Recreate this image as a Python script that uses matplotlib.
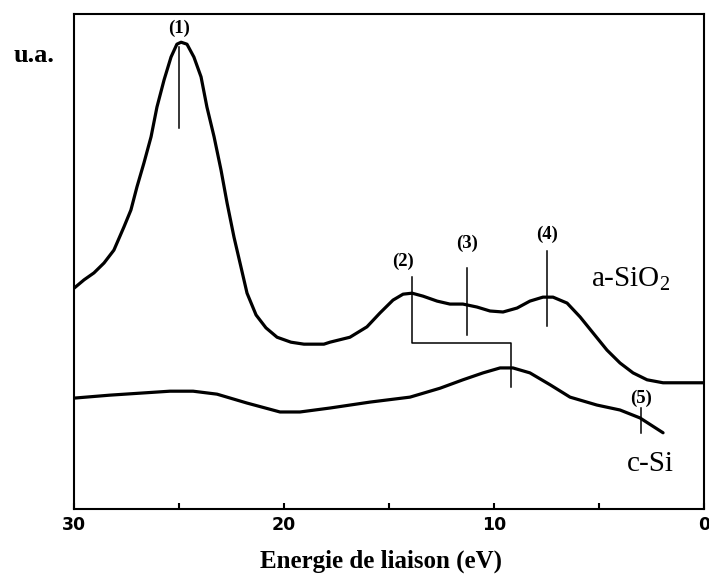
import matplotlib
matplotlib.use("Agg")
import matplotlib.pyplot as plt

serif = "Liberation Serif"
plt.rcParams["mathtext.fontset"] = "custom"
plt.rcParams["mathtext.rm"] = serif
plt.rcParams["mathtext.it"] = serif + ":italic"
plt.rcParams["mathtext.bf"] = serif + ":bold"

# binding energy (eV) and intensity (a.u.)
e_sio2 = [30.0, 29.52, 29.05, 28.57, 28.10, 27.62, 27.29, 27.00, 26.67, 26.33,
          26.05, 25.71, 25.38, 25.10, 24.90, 24.62, 24.29, 23.95, 23.67, 23.33,
          23.00, 22.71, 22.38, 22.05, 21.76, 21.33, 20.86, 20.33, 19.67, 19.05,
          18.10, 17.81, 16.86, 16.05, 15.43, 14.81, 14.33, 13.90, 13.38, 12.71,
          12.10, 11.48, 10.81, 10.19, 9.57, 8.90, 8.29, 7.67, 7.19, 6.52,
          5.90, 5.29, 4.62, 4.0, 3.38, 2.71, 1.95, 0.0]
i_sio2 = [44.6, 46.3, 47.7, 49.7, 52.3, 57.0, 60.4, 65.1, 69.9, 75.2,
          81.2, 86.7, 91.3, 93.9, 94.3, 93.9, 91.3, 87.3, 81.2, 75.2,
          68.5, 61.8, 54.9, 48.9, 43.6, 39.2, 36.6, 34.7, 33.7, 33.3,
          33.3, 33.7, 34.7, 36.8, 39.6, 42.2, 43.4, 43.6, 43.0, 42.0,
          41.4, 41.4, 40.8, 40.0, 39.8, 40.6, 42.0, 42.8, 42.8, 41.6,
          38.8, 35.6, 32.1, 29.5, 27.5, 26.1, 25.5, 25.5]

e_si = [30.0, 28.29, 25.43, 24.33, 23.19, 21.76, 20.19, 19.24, 17.81, 15.90,
        14.0, 12.57, 11.48, 10.52, 9.71, 9.10, 8.29, 7.33, 6.38, 5.10,
        4.0, 3.05, 1.95]
i_si = [22.4, 23.0, 23.8, 23.8, 23.2, 21.4, 19.6, 19.6, 20.4, 21.6,
        22.6, 24.4, 26.1, 27.5, 28.5, 28.5, 27.5, 25.1, 22.6, 21.0,
        20.0, 18.4, 15.4]

# peak markers: label, energy, line bottom, line top, label height
peak_labels = ["(1)", "(3)", "(4)", "(5)"]
peak_e = [25.0, 11.29, 7.48, 3.0]
peak_lo = [77.0, 35.2, 37.0, 15.4]
peak_hi = [93.3, 48.7, 52.1, 20.4]
label_y = [97.2, 53.7, 55.4, 22.4]

# peak (2) bracket linking a-SiO2 and c-Si
bracket_e = [13.9, 13.9, 9.2, 9.2]
bracket_i = [46.9, 33.5, 33.5, 24.6]

fig = plt.figure(figsize=(7.09, 5.75), dpi=100)
ax = fig.add_axes([74 / 709, 66 / 575, 630 / 709, 495 / 575])

ax.plot(e_sio2, i_sio2, color="black", lw=2.3, solid_joinstyle="round",
        solid_capstyle="round")
ax.plot(e_si, i_si, color="black", lw=2.3, solid_joinstyle="round",
        solid_capstyle="round")

for lab, e, lo, hi, ly in zip(peak_labels, peak_e, peak_lo, peak_hi, label_y):
    ax.plot([e, e], [lo, hi], color="black", lw=1.1)
    ax.text(e, ly, lab, ha="center", va="center", fontsize=13.5,
            fontweight="bold", family=serif)
ax.plot(bracket_e, bracket_i, color="black", lw=1.1)
ax.text(14.33, 50.1, "(2)", ha="center", va="center", fontsize=13.5,
        fontweight="bold", family=serif)

ax.text(5.4, 46.3, "a-SiO$_2$", ha="left", va="center", fontsize=21,
        family=serif)
ax.text(3.67, 9.0, "c-Si", ha="left", va="center", fontsize=21, family=serif)

ax.set_xlim(30, 0)
ax.set_ylim(0, 100)
ax.set_xticks([30, 20, 10, 0])
ax.set_xticks([25, 15, 5], minor=True)
ax.set_yticks([])
ax.tick_params(axis="x", which="both", direction="in", length=4, width=1.5,
               pad=5)
ax.tick_params(axis="x", labelsize=12.5)
for t in ax.get_xticklabels():
    t.set_fontweight("heavy")
for s in ax.spines.values():
    s.set_linewidth(1.5)

fig.text(381 / 709, 1 - 561 / 575, "Energie de liaison (eV)", ha="center",
         va="center", fontsize=18, fontweight="bold", family=serif)
fig.text(34 / 709, 1 - 55 / 575, "u.a.", ha="center", va="center",
         fontsize=19, fontweight="bold", family=serif)

fig.savefig("out.png", dpi=100)
